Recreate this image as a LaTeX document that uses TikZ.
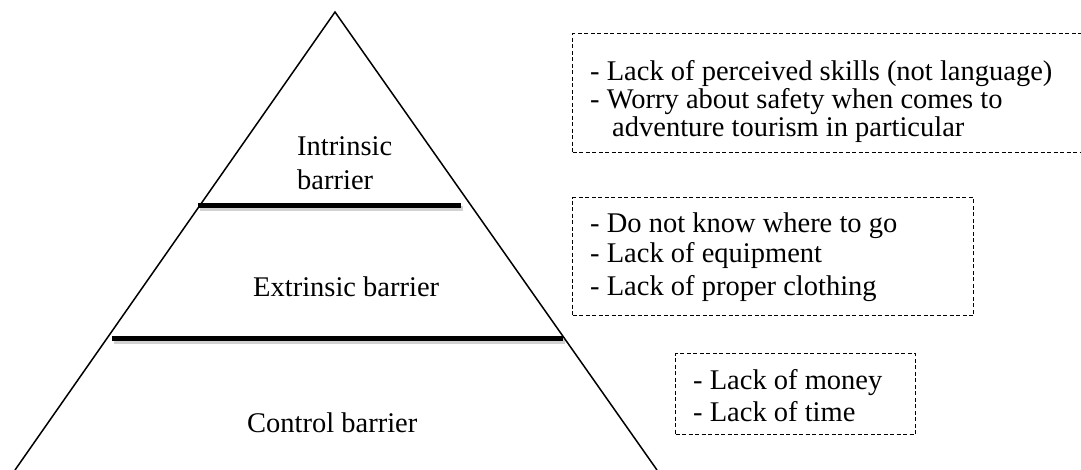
\documentclass[tikz,border=0pt]{standalone}
\usepackage{fontspec}
\setmainfont{Liberation Serif}
\begin{document}
\begin{tikzpicture}[x=1pt,y=-1pt,
  lbl/.style={anchor=base west,inner sep=0pt,font=\fontsize{28.5}{30}\selectfont},
  dbox/.style={draw,line width=1.3pt,dash pattern=on 4pt off 2.5pt,
    anchor=north west,inner sep=0pt},
  side/.style={line width=1.5pt},
  level/.style={line width=5pt},
  levelshade/.style={line width=5pt,draw opacity=0.18}]
\useasboundingbox (0,0) rectangle (1081,470);
\clip (0,0) rectangle (1081,470);

% pyramid outline
\coordinate (apex) at (335,12);
\coordinate (bl) at (15,470);
\coordinate (br) at (657,470);
\draw[side,line join=miter] (bl) -- (apex) -- (br);

% level dividers with a soft shadow
\coordinate (d1l) at (198,206);
\coordinate (d1r) at (461,206);
\coordinate (d2l) at (112,338);
\coordinate (d2r) at (563,338);
\draw[levelshade] ([shift={(2,3)}]d1l) -- ([shift={(2,3)}]d1r);
\draw[levelshade] ([shift={(2,3)}]d2l) -- ([shift={(2,3)}]d2r);
\draw[level] (d1l) -- (d1r);
\draw[level] (d2l) -- (d2r);

% level names
\node[lbl] (intr1) at (297,156) {Intrinsic};
\node[lbl] (intr2) at (297,190) {barrier};
\node[lbl] (extr) at (253,297) {Extrinsic barrier};
\node[lbl] (ctrl) at (247,432) {Control barrier};

% dashed boxes
\node[dbox,minimum width=530pt,minimum height=119pt] (box1) at (572,33) {};
\node[dbox,minimum width=401pt,minimum height=118pt] (box2) at (572,197) {};
\node[dbox,minimum width=240pt,minimum height=81pt] (box3) at (675,353) {};

% box texts
\node[lbl] (b1a) at (590,81) {- Lack of perceived skills (not language)};
\node[lbl] (b1b) at (590,109) {- Worry about safety when comes to};
\node[lbl] (b1c) at (612,137) {adventure tourism in particular};

\node[lbl] (b2a) at (590,233) {- Do not know where to go};
\node[lbl] (b2b) at (590,263) {- Lack of equipment};
\node[lbl] (b2c) at (590,295) {- Lack of proper clothing};

\node[lbl] (b3a) at (693,389) {- Lack of money};
\node[lbl] (b3b) at (693,421) {- Lack of time};
\end{tikzpicture}
\end{document}
